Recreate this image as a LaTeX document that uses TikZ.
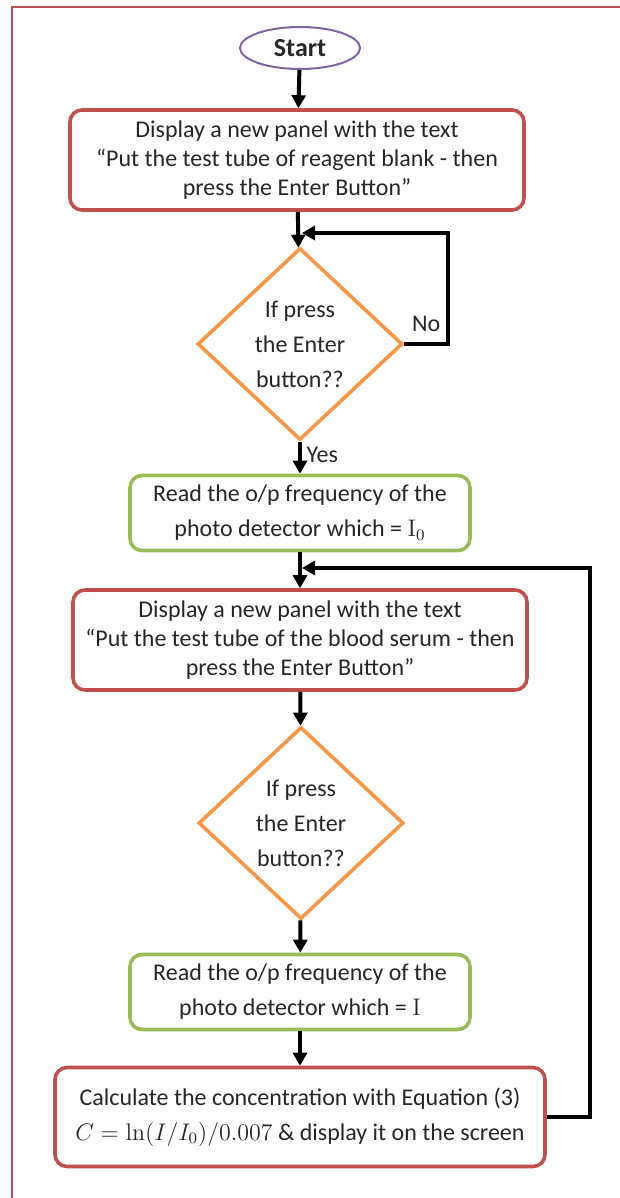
\documentclass[tikz,border=0pt]{standalone}
\usepackage[no-math]{fontspec}
\setmainfont{Carlito}
\usetikzlibrary{shapes.geometric,arrows.meta}
\definecolor{boxred}{HTML}{C0504D}
\definecolor{boxorange}{HTML}{F79646}
\definecolor{boxgreen}{HTML}{9BBB59}
\definecolor{boxpurple}{HTML}{8064A2}
\begin{document}
\begin{tikzpicture}[x=0.5pt,y=-0.5pt,
        every node/.style={font=\fontsize{12}{14.5}\selectfont, align=center, text=black!85},
        panel/.style={draw=boxred, line width=1.8pt, rounded corners=6pt, minimum width=227pt, minimum height=50pt},
        readbox/.style={draw=boxgreen, line width=1.8pt, rounded corners=6pt, minimum width=170pt, minimum height=37.5pt, font=\fontsize{12}{17.5}\selectfont},
        test/.style={draw=boxorange, line width=1.8pt, diamond, inner sep=1pt, minimum width=102.5pt, minimum height=96pt, font=\fontsize{12}{17.5}\selectfont},
        flow/.style={draw, line width=2pt, -{Triangle[width=7pt,length=6.5pt]}}]
        \useasboundingbox (0,0) rectangle (620,1198);
        \draw[boxred, line width=1pt] (620,7) -- (12,7) -- (12,1198);

        \node[draw=boxpurple, line width=1pt, ellipse, minimum width=60pt, minimum height=21pt, inner sep=0pt, font=\fontsize{13}{15}\selectfont] (1) at (300,48) {\textbf{Start}};
        \node[panel] (2) at (297,160) {Display a new panel with the text\\``Put the test tube of reagent blank - then\\press the Enter Button''};
        \node[test] (3) at (300,344) {If press\\the Enter\\button??};
        \node[readbox] (4) at (300,513) {Read the o/p frequency of the\\photo detector which = $\mathrm{I}_0$};
        \node[panel] (5) at (300,640) {Display a new panel with the text\\``Put the test tube of the blood serum - then\\press the Enter Button''};
        \node[test] (6) at (301,823) {If press\\the Enter\\button??};
        \node[readbox] (7) at (300,992) {Read the o/p frequency of the\\photo detector which = $\mathrm{I}$};
        \node[panel, minimum width=245pt, minimum height=49.5pt, font=\fontsize{12}{17.5}\selectfont] (8) at (300,1117) {Calculate the concentration with Equation (3)\\$C=\ln\bigl(I/I_0\bigr)/0.007$ \& display it on the screen};

        \coordinate (j1) at (302,233);
        \coordinate (j2) at (302,568);

        \path[flow] (1) -- (2);
        \path[flow] (2) -- (3);
        \path[flow] (3) -- (4) node[pos=0.4, right=-1pt] {Yes};
        \path[flow] (4) -- (5);
        \path[flow] (5) -- (6);
        \path[flow] (6) -- (7);
        \path[flow] (7) -- (8);

        \path[flow] (3.east) -- (448,344) node[pos=0.5, above=2pt] {No} |- (j1);
        \path[flow] (8.east) -- (590,1117) |- (j2);
    \end{tikzpicture}
\end{document}
